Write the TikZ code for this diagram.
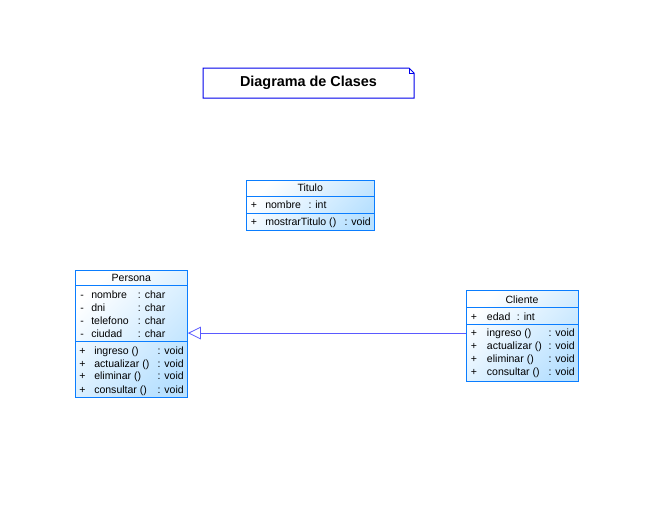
\documentclass[tikz,border=0pt]{standalone}
\usepackage{fontspec}
\setmainfont{Liberation Sans}
\usetikzlibrary{arrows.meta}
\definecolor{clsborder}{RGB}{10,125,255}
\definecolor{clsfill}{RGB}{185,225,255}
\definecolor{notebord}{RGB}{0,0,235}
\definecolor{linkcol}{RGB}{90,90,255}
\tikzset{
  clsbox/.style={rectangle, draw=clsborder, line width=0.75pt, top color=white, bottom color=clsfill, shading angle=45, inner sep=0pt},
  sep/.style={draw=clsborder, line width=0.75pt},
  txt/.style={anchor=base west, inner sep=0pt, font=\fontsize{7.9pt}{9pt}\selectfont},
  hdr/.style={anchor=base, inner sep=0pt, font=\fontsize{7.9pt}{9pt}\selectfont},
  gen/.style={draw=linkcol, line width=0.6pt, -{Triangle[open, length=9.75pt, width=9.4pt, line width=0.6pt]}}
}
\begin{document}
\begin{tikzpicture}[x=0.75pt, y=-0.75pt]
\useasboundingbox (0,0) rectangle (664,529);
% Note
\draw[draw=notebord, line width=0.75pt, fill=white] (203,68) -- (409,68) -- (414,73) -- (414,98) -- (203,98) -- cycle;
\draw[draw=notebord, line width=0.5pt] (409,68) -- (409,73) -- (414,73);
\node[inner sep=0pt, font=\bfseries\fontsize{10.8pt}{12pt}\selectfont] (title) at (308.5,83) {Diagrama de Clases};

% Titulo
\node[clsbox, minimum width={127.5*0.75pt}, minimum height={50*0.75pt}] (T) at (310.25,205) {};
\draw[sep] (246.5,196.3) -- (374,196.3);
\draw[sep] (246.5,213.3) -- (374,213.3);
\node[hdr] (Th) at (310.25,191) {Titulo};
\node[txt] (Ta1) at (250.5,208.5) {+};
\node[txt] (Ta2) at (265,208.5) {nombre};
\node[txt] (Ta3) at (308.3,208.5) {: int};
\node[txt] (To1) at (250.5,225) {+};
\node[txt] (To2) at (265,225) {mostrarTitulo ()};
\node[txt] (To3) at (344.3,225) {: void};

% Persona
\node[clsbox, minimum width={112*0.75pt}, minimum height={127.2*0.75pt}] (P) at (131.3,334.1) {};
\draw[sep] (75.3,285.7) -- (187.3,285.7);
\draw[sep] (75.3,341.7) -- (187.3,341.7);
\node[hdr] (Ph) at (131.3,281) {Persona};
\node[txt] (Pa1m) at (80,298) {-};
\node[txt] (Pa1) at (91,298) {nombre};
\node[txt] (Pa1t) at (137.7,298) {: char};
\node[txt] (Pa2m) at (80,311) {-};
\node[txt] (Pa2) at (91,311) {dni};
\node[txt] (Pa2t) at (137.7,311) {: char};
\node[txt] (Pa3m) at (80,324.5) {-};
\node[txt] (Pa3) at (91,324.5) {telefono};
\node[txt] (Pa3t) at (137.7,324.5) {: char};
\node[txt] (Pa4m) at (80,337) {-};
\node[txt] (Pa4) at (91,337) {ciudad};
\node[txt] (Pa4t) at (137.7,337) {: char};
\node[txt] (Po1m) at (79,354) {+};
\node[txt] (Po1) at (94,354) {ingreso ()};
\node[txt] (Po1t) at (157.3,354) {: void};
\node[txt] (Po2m) at (79,367) {+};
\node[txt] (Po2) at (94,367) {actualizar ()};
\node[txt] (Po2t) at (157.3,367) {: void};
\node[txt] (Po3m) at (79,379.5) {+};
\node[txt] (Po3) at (94,379.5) {eliminar ()};
\node[txt] (Po3t) at (157.3,379.5) {: void};
\node[txt] (Po4m) at (79,393) {+};
\node[txt] (Po4) at (94,393) {consultar ()};
\node[txt] (Po4t) at (157.3,393) {: void};

% Cliente
\node[clsbox, minimum width={112*0.75pt}, minimum height={91.7*0.75pt}] (C) at (522,335.85) {};
\draw[sep] (466,307.7) -- (578,307.7);
\draw[sep] (466,324.3) -- (578,324.3);
\node[hdr] (Ch) at (522,303.5) {Cliente};
\node[txt] (Ca1m) at (470.5,320) {+};
\node[txt] (Ca1) at (486.7,320) {edad};
\node[txt] (Ca1t) at (516.7,320) {: int};
\node[txt] (Co1m) at (470.5,336) {+};
\node[txt] (Co1) at (486.7,336) {ingreso ()};
\node[txt] (Co1t) at (548.3,336) {: void};
\node[txt] (Co2m) at (470.5,349) {+};
\node[txt] (Co2) at (486.7,349) {actualizar ()};
\node[txt] (Co2t) at (548.3,349) {: void};
\node[txt] (Co3m) at (470.5,362) {+};
\node[txt] (Co3) at (486.7,362) {eliminar ()};
\node[txt] (Co3t) at (548.3,362) {: void};
\node[txt] (Co4m) at (470.5,375) {+};
\node[txt] (Co4) at (486.7,375) {consultar ()};
\node[txt] (Co4t) at (548.3,375) {: void};

% Generalization
\coordinate (cw) at ([yshift=2.1pt]C.west);
\draw[gen] (cw) -- (cw -| P.east);
\end{tikzpicture}
\end{document}
